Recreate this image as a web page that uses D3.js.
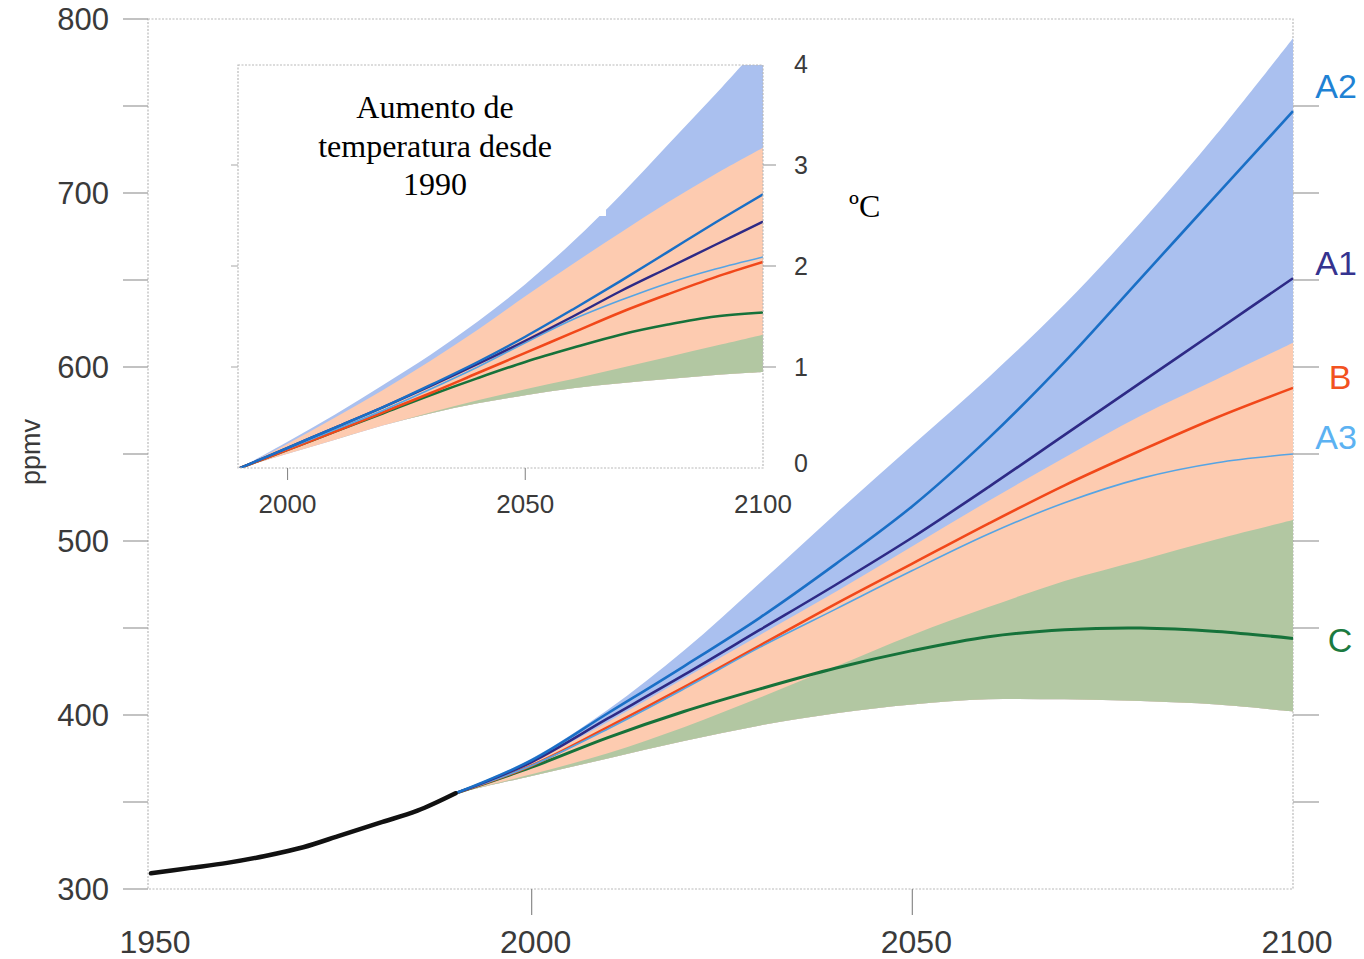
<!DOCTYPE html>
<html>
<head>
<meta charset="utf-8">
<script src="https://cdn.jsdelivr.net/npm/d3@7"></script>
<style>
  html, body { margin: 0; padding: 0; background: #fff; }
  svg { display: block; }
  .tick-label { font-family: "Liberation Sans", Arial, Helvetica, sans-serif; fill: #3a3a3a; }
</style>
</head>
<body>
<svg id="chart" width="1364" height="959"></svg>
<script>
// ---- CO2 concentration (ppmv) ----
const histYears = [1950, 1955, 1960, 1965, 1970, 1975, 1980, 1985, 1990];
const histCO2   = [309, 312, 315, 319, 324, 331, 338, 345, 355];

const projYears = [1990, 2000, 2010, 2020, 2030, 2040, 2050, 2060, 2070, 2080, 2090, 2100];
const co2A2 = [355, 374, 401, 428, 456, 487, 520, 559, 603, 651, 699, 747];
const co2A1 = [355, 373, 398, 423, 449, 475, 502, 531, 561, 591, 621, 651];
const co2B  = [355, 371, 393, 416, 440, 464, 487, 510, 532, 552, 571, 588];
const co2A3 = [355, 371, 392, 415, 439, 461, 483, 504, 522, 536, 545, 550];
const co2C  = [355, 370, 387, 402, 415, 427, 437, 445, 449, 450, 448, 444];
// uncertainty ranges
const co2BlueHigh   = [355, 375, 403, 437, 476, 516, 555, 594, 636, 683, 734, 789];
const co2OrangeHigh = [355, 373, 396, 421, 446, 471, 497, 523, 548, 572, 593, 614];
const co2GreenHigh  = [355, 366, 378, 393, 410, 428, 446, 462, 477, 489, 501, 512];
const co2GreenLow   = [355, 365, 375, 385, 394, 401, 406, 409, 409, 408, 406, 402];

// ---- temperature increase since 1990 (degC) ----
const tA2 = [0, 0.20, 0.40, 0.60, 0.82, 1.05, 1.30, 1.57, 1.85, 2.14, 2.43, 2.71];
const tA1 = [0, 0.20, 0.40, 0.60, 0.81, 1.03, 1.26, 1.50, 1.75, 1.98, 2.21, 2.44];
const tA3 = [0, 0.19, 0.38, 0.57, 0.78, 1.00, 1.24, 1.47, 1.66, 1.83, 1.97, 2.09];
const tB  = [0, 0.18, 0.36, 0.55, 0.74, 0.94, 1.14, 1.34, 1.54, 1.72, 1.89, 2.04];
const tC  = [0, 0.18, 0.36, 0.54, 0.72, 0.89, 1.05, 1.19, 1.32, 1.42, 1.50, 1.54];
const tBlueHigh   = [0, 0.26, 0.53, 0.82, 1.12, 1.45, 1.82, 2.24, 2.70, 3.20, 3.70, 4.22];
const tOrangeHigh = [0, 0.24, 0.50, 0.77, 1.06, 1.37, 1.70, 2.02, 2.33, 2.63, 2.91, 3.17];
const tGreenHigh  = [0, 0.14, 0.28, 0.42, 0.55, 0.67, 0.78, 0.88, 0.99, 1.10, 1.21, 1.32];
const tGreenLow   = [0, 0.14, 0.28, 0.42, 0.54, 0.64, 0.72, 0.79, 0.84, 0.88, 0.92, 0.95];

// ---- axis ticks and labels ----
const mainYTicks = [300, 400, 500, 600, 700, 800];
const mainYMinor = [300, 350, 400, 450, 500, 550, 600, 650, 700, 750, 800];
const rightTicks = [350, 400, 450, 500, 550, 600, 650, 700, 750];
const mainXTicks = [1950, 2000, 2050, 2100];
const insetXTicks = [2000, 2050, 2100];
const insetYTicks = [0, 1, 2, 3, 4];
const scenarioNames = ["A2", "A1", "B", "A3", "C"];
const scenarioLabelAt = [761.5, 660, 594, 560, 443];

const colors = {
  blueBand: "#aac0ef", orangeBand: "#fdcbb0", greenBand: "#b2c7a2",
  A2: "#1a6fc6", A1: "#2e2a86", B: "#f1481a", A3: "#55a4e4", C: "#16723a",
  labA2: "#1f82d4", labA1: "#35338f", labB: "#f2521f", labA3: "#5cb2f2", labC: "#1b7a40"
};

const svg = d3.select("#chart");

// ================= main chart =================
const x = d3.scaleLinear().domain([1950, 2100]).range([151, 1293]);
const y = d3.scaleLinear().domain([300, 800]).range([889, 19]);

const frameStyle = sel => sel.attr("fill", "none").attr("stroke", "#b9b9b9")
  .attr("stroke-width", 1.2).attr("stroke-dasharray", "2,1.5");

svg.append("rect").attr("x", x(1950) - 3).attr("y", y(800))
  .attr("width", x(2100) - x(1950) + 3).attr("height", y(300) - y(800)).call(frameStyle);

const smooth = d3.curveCatmullRom.alpha(0.5);
const rows = (ys, lo, hi) => ys.map((yr, i) => ({ yr, lo: lo[i], hi: hi[i] }));
const band = (sx, sy) => d3.area().curve(smooth)
  .x(d => sx(d.yr)).y0(d => sy(d.lo)).y1(d => sy(d.hi));
const line = (sx, sy) => d3.line().curve(smooth)
  .x(d => sx(d.yr)).y(d => sy(d.v));
const pts = (ys, vs) => ys.map((yr, i) => ({ yr, v: vs[i] }));

const mainBand = band(x, y);
svg.append("path").attr("d", mainBand(rows(projYears, co2GreenLow, co2BlueHigh))).attr("fill", colors.blueBand);
svg.append("path").attr("d", mainBand(rows(projYears, co2GreenLow, co2OrangeHigh))).attr("fill", colors.orangeBand);
svg.append("path").attr("d", mainBand(rows(projYears, co2GreenLow, co2GreenHigh))).attr("fill", colors.greenBand);

const mainLine = line(x, y);
const mainSeries = [
  { v: co2C, c: colors.C, w: 3 },
  { v: co2B, c: colors.B, w: 2.6 },
  { v: co2A3, c: colors.A3, w: 1.6 },
  { v: co2A1, c: colors.A1, w: 2.6 },
  { v: co2A2, c: colors.A2, w: 2.6 }
];
mainSeries.forEach(s => svg.append("path").attr("d", mainLine(pts(projYears, s.v)))
  .attr("fill", "none").attr("stroke", s.c).attr("stroke-width", s.w));

svg.append("path").attr("d", mainLine(pts(histYears, histCO2)))
  .attr("fill", "none").attr("stroke", "#111").attr("stroke-width", 4.5).attr("stroke-linecap", "round");

// left ticks (outward) and labels
svg.append("g").selectAll("line").data(mainYMinor).join("line")
  .attr("x1", 123).attr("x2", x(1950) - 3).attr("y1", d => y(d)).attr("y2", d => y(d))
  .attr("stroke", "#9a9a9a").attr("stroke-width", 1.2);
svg.append("g").selectAll("text").data(mainYTicks).join("text")
  .attr("class", "tick-label").attr("x", 109).attr("y", d => y(d) + 11)
  .attr("text-anchor", "end").attr("font-size", 31).text(d => d);

// right ticks (outward)
svg.append("g").selectAll("line").data(rightTicks).join("line")
  .attr("x1", x(2100)).attr("x2", 1319).attr("y1", d => y(d)).attr("y2", d => y(d))
  .attr("stroke", "#9a9a9a").attr("stroke-width", 1.2);

// bottom ticks and labels
svg.append("g").selectAll("line").data(mainXTicks.slice(1, 3)).join("line")
  .attr("x1", d => x(d)).attr("x2", d => x(d)).attr("y1", y(300)).attr("y2", 915)
  .attr("stroke", "#8a8a8a").attr("stroke-width", 1.2);
svg.append("g").selectAll("text").data(mainXTicks).join("text")
  .attr("class", "tick-label").attr("x", d => x(d) + 4).attr("y", 953)
  .attr("text-anchor", "middle").attr("font-size", 32).text(d => d);

svg.append("text").attr("class", "tick-label")
  .attr("transform", "translate(40,452) rotate(-90)")
  .attr("text-anchor", "middle").attr("font-size", 27).text("ppmv");

// scenario labels on the right
const labCols = [colors.labA2, colors.labA1, colors.labB, colors.labA3, colors.labC];
svg.append("g").selectAll("text").data(scenarioNames).join("text")
  .attr("class", "tick-label").attr("x", d => (d === "B" || d === "C") ? 1340 : 1336)
  .attr("y", (d, i) => y(scenarioLabelAt[i]) + 12)
  .attr("text-anchor", "middle").attr("font-size", 34)
  .style("fill", (d, i) => labCols[i]).text(d => d);

// ================= inset: temperature increase =================
const xi = d3.scaleLinear().domain([1990, 2100]).range([240, 763]);
const yi = d3.scaleLinear().domain([0, 4]).range([468, 64]);

svg.append("rect").attr("x", 238).attr("y", 65).attr("width", 525).attr("height", 403).attr("fill", "#fff");

svg.append("clipPath").attr("id", "insetClip")
  .append("rect").attr("x", 238).attr("y", 65).attr("width", 525).attr("height", 403);
const gi = svg.append("g").attr("clip-path", "url(#insetClip)");

const insetBand = band(xi, yi);
gi.append("path").attr("d", insetBand(rows(projYears, tGreenLow, tBlueHigh))).attr("fill", colors.blueBand);
gi.append("path").attr("d", insetBand(rows(projYears, tGreenLow, tOrangeHigh))).attr("fill", colors.orangeBand);
gi.append("path").attr("d", insetBand(rows(projYears, tGreenLow, tGreenHigh))).attr("fill", colors.greenBand);

const insetLine = line(xi, yi);
const insetSeries = [
  { v: tC, c: colors.C, w: 2.6 },
  { v: tB, c: colors.B, w: 2.6 },
  { v: tA3, c: colors.A3, w: 1.6 },
  { v: tA1, c: colors.A1, w: 2.4 },
  { v: tA2, c: colors.A2, w: 2.4 }
];
insetSeries.forEach(s => gi.append("path").attr("d", insetLine(pts(projYears, s.v)))
  .attr("fill", "none").attr("stroke", s.c).attr("stroke-width", s.w));

svg.append("rect").attr("x", 238).attr("y", 65).attr("width", 525).attr("height", 403).call(frameStyle);

// title box over the upper-left of the inset
svg.append("rect").attr("x", 263).attr("y", 80).attr("width", 343).attr("height", 136).attr("fill", "#fff");
const title = svg.append("text").attr("font-family", "'Liberation Serif', 'Times New Roman', serif")
  .attr("font-size", 32).attr("fill", "#000").attr("text-anchor", "middle");
["Aumento de", "temperatura desde", "1990"].forEach((t, i) =>
  title.append("tspan").attr("x", 435).attr("y", 118 + i * 38.5).text(t));

svg.append("text").attr("font-family", "'Liberation Serif', 'Times New Roman', serif")
  .attr("font-size", 32).attr("fill", "#000").attr("x", 849).attr("y", 217).text("ºC");

// inset ticks and labels
svg.append("g").selectAll("line").data(insetYTicks.slice(1, 4)).join("line")
  .attr("x1", 763).attr("x2", 776).attr("y1", d => yi(d)).attr("y2", d => yi(d))
  .attr("stroke", "#9a9a9a").attr("stroke-width", 1.1);
svg.append("g").selectAll("line").data(insetYTicks.slice(1, 4)).join("line")
  .attr("x1", 231).attr("x2", 238).attr("y1", d => yi(d)).attr("y2", d => yi(d))
  .attr("stroke", "#b0b0b0").attr("stroke-width", 1.1);
svg.append("g").selectAll("text").data(insetYTicks).join("text")
  .attr("class", "tick-label").attr("x", 801).attr("y", d => yi(d) + (d === 0 ? 4 : 9))
  .attr("text-anchor", "middle").attr("font-size", 25).text(d => d);

svg.append("g").selectAll("line").data(insetXTicks.slice(0, 2)).join("line")
  .attr("x1", d => xi(d)).attr("x2", d => xi(d)).attr("y1", 468).attr("y2", 480)
  .attr("stroke", "#8a8a8a").attr("stroke-width", 1.1);
svg.append("g").selectAll("text").data(insetXTicks).join("text")
  .attr("class", "tick-label").attr("x", d => xi(d)).attr("y", 513)
  .attr("text-anchor", "middle").attr("font-size", 26).text(d => d);
</script>
</body>
</html>
